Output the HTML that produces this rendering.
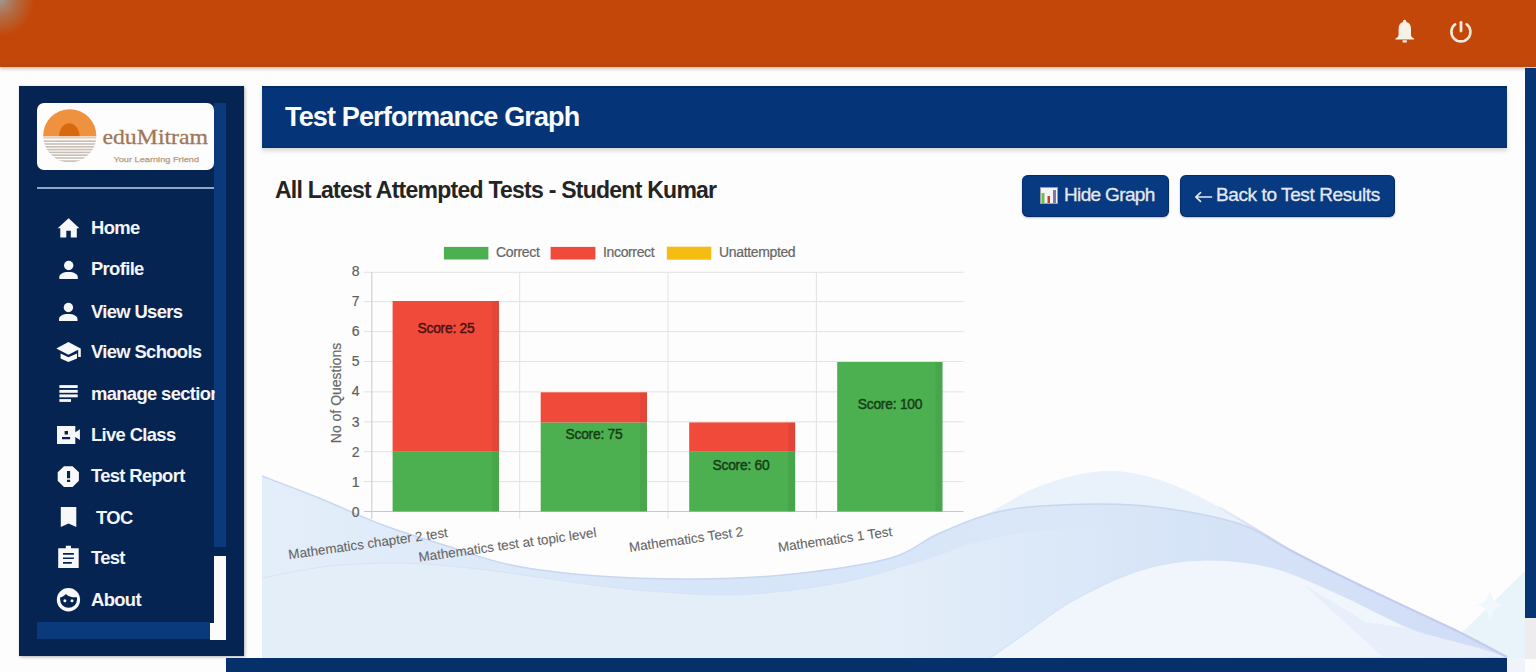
<!DOCTYPE html>
<html><head><meta charset="utf-8">
<style>
*{margin:0;padding:0;box-sizing:border-box}
html,body{width:1536px;height:672px;overflow:hidden;background:#fdfdfe;font-family:"Liberation Sans",sans-serif}
.abs{position:absolute}
#hdr{left:0;top:0;width:1536px;height:67px;background:linear-gradient(#c4470a 0,#c4470a 88%,#b9470f 100%);box-shadow:0 2px 3px rgba(150,80,30,.35)}
#corner{left:-40px;top:-40px;width:90px;height:90px;background:radial-gradient(ellipse 34px 36px at 40px 40px,rgba(160,155,150,.95) 0%,rgba(170,125,95,.7) 45%,rgba(196,71,10,0) 100%)}
#rstrip{left:1525px;top:68px;width:11px;height:550px;background:#073574}
#rgrey{left:1525px;top:617.5px;width:11px;height:41px;background:#ededed}
#card{left:262px;top:86px;width:1263px;height:572px;background:#fdfdfd}
#side{left:19px;top:86px;width:224.5px;height:570px;background:#062452;box-shadow:1px 1px 3px rgba(0,0,0,.3)}
#logo{left:37px;top:103px;width:177px;height:67px;background:#fdfdfd;border-radius:7px}
#hr{left:37px;top:187px;width:177px;height:2px;background:#8ea6ca}
.mi{position:absolute;left:91px;color:#f4f5f8;font-weight:bold;font-size:18.4px;line-height:20px;white-space:nowrap;letter-spacing:-0.65px}
#vstrip{left:214px;top:103px;width:12px;height:444px;background:#0b3a7c}
#wstrip{left:214px;top:556px;width:12px;height:84px;background:#fbfbfb}
#wstrip2{left:210px;top:622.5px;width:5px;height:17px;background:#fbfbfb}
#hstrip{left:37px;top:622px;width:173px;height:16.6px;background:#0b3a7c}
#title{left:262px;top:86px;width:1245px;height:61.5px;background:#053478;border-top:2px solid #022a64;border-bottom:1.5px solid #042d6a;box-shadow:0 3px 4px rgba(0,0,0,.15)}
#title span{position:absolute;left:23px;top:14px;color:#fafbfd;font-weight:bold;font-size:27px;line-height:30px;letter-spacing:-0.85px;white-space:nowrap}
#sub{left:275px;top:177px;color:#242424;font-weight:bold;font-size:23px;line-height:26px;white-space:nowrap;letter-spacing:-0.75px}
.btn{position:absolute;top:175px;height:42px;background:#073a80;border-radius:6px;color:#e4e9f1;font-size:19px;line-height:42px;white-space:nowrap;box-shadow:0 1px 2px rgba(0,0,0,.25),inset 0 0 0 1px rgba(0,20,60,.35);-webkit-text-stroke:0.3px #e4e9f1}
#bot{left:226px;top:658px;width:1281px;height:14px;background:#06306a}
.yl{position:absolute;width:20px;text-align:right;color:#606060;font-size:14px;line-height:14px;-webkit-text-stroke:0.2px #606060}
.xl{position:absolute;color:#666;font-size:13.4px;line-height:14px;white-space:nowrap;transform-origin:100% 0;transform:rotate(-8deg);-webkit-text-stroke:0.1px #666}
.sc{position:absolute;font-weight:normal;-webkit-text-stroke:0.45px currentColor;font-size:15px;line-height:16px;white-space:nowrap;text-align:center;width:110px;letter-spacing:-0.25px;transform:scaleX(0.92)}
.lg{position:absolute;top:244.5px;color:#666;font-size:14px;line-height:14px;white-space:nowrap;letter-spacing:-0.35px;-webkit-text-stroke:0.2px #666}
</style></head><body>
<div id="hdr" class="abs"></div>
<div id="corner" class="abs"></div>
<!-- header icons -->
<svg class="abs" style="left:0;top:0" width="1536" height="67" viewBox="0 0 1536 67">
  <path fill="#f8f1e6" d="M1404.6,19.8 C1403.4,19.8 1402.9,21 1402.9,22 C1399.8,23 1398.6,25.5 1398.6,29 L1398.6,34.5 C1398.6,36.5 1397.5,37.6 1395.5,38.4 L1395.5,39.5 L1414,39.5 L1414,38.4 C1412,37.6 1411,36.5 1411,34.5 L1411,29 C1411,25.5 1409.8,23 1406.4,22 C1406.4,21 1405.8,19.8 1404.6,19.8 Z M1402.6,40.2 L1406.8,40.2 L1406.8,42.6 L1402.6,42.6 Z"/>
  <path fill="none" stroke="#f3eadc" stroke-width="2.6" stroke-linecap="round" d="M1455.2,24.3 A9.5,9.5 0 1 0 1466.6,24.3"/>
  <path fill="none" stroke="#f3eadc" stroke-width="2.8" stroke-linecap="round" d="M1461,22.3 L1461,31"/>
</svg>
<div id="rstrip" class="abs"></div>
<div id="rgrey" class="abs"></div>

<div id="card" class="abs"></div>
<!--WAVE--><svg class="abs" style="left:0;top:0" width="1536" height="672" viewBox="0 0 1536 672">
  <defs>
    <linearGradient id="bg1" x1="262" y1="0" x2="1507" y2="0" gradientUnits="userSpaceOnUse">
      <stop offset="0" stop-color="#e4eefa"/>
      <stop offset="0.35" stop-color="#d6e5f8"/>
      <stop offset="0.65" stop-color="#d9e7f8"/>
      <stop offset="1" stop-color="#d0dcf6"/>
    </linearGradient>
    <linearGradient id="dg" x1="262" y1="0" x2="1120" y2="0" gradientUnits="userSpaceOnUse">
      <stop offset="0" stop-color="#e4eef9"/>
      <stop offset="0.72" stop-color="#e4eef9"/>
      <stop offset="1" stop-color="#e4eef9" stop-opacity="0"/>
    </linearGradient>
    <linearGradient id="dl" x1="262" y1="0" x2="1000" y2="0" gradientUnits="userSpaceOnUse">
      <stop offset="0" stop-color="#d6e2f6"/>
      <stop offset="0.8" stop-color="#d6e2f6"/>
      <stop offset="1" stop-color="#d6e2f6" stop-opacity="0"/>
    </linearGradient>
    <linearGradient id="lav" x1="1200" y1="0" x2="1507" y2="0" gradientUnits="userSpaceOnUse">
      <stop offset="0" stop-color="#c4ccef" stop-opacity="0"/>
      <stop offset="0.3" stop-color="#c4ccef" stop-opacity="1"/>
      <stop offset="1" stop-color="#c4ccef" stop-opacity="1"/>
    </linearGradient>
    <clipPath id="cardclip"><rect x="262" y="148" width="1263" height="510"/></clipPath>
  </defs>
  <g clip-path="url(#cardclip)">
    <path fill="#e9f4fa" d="M1436,658 L1525,571 L1525,658 Z"/>
    <path fill="#f1f8fc" d="M1490,590 Q1492,603 1503,605 Q1492,607 1490,620 Q1488,607 1477,605 Q1488,603 1490,590 Z"/>
    <path fill="#e9f2fb" d="M930.0,541.0 C939.2,536.7 966.7,524.2 985.0,515.0 C1003.3,505.8 1020.3,493.3 1040.0,486.0 C1059.7,478.7 1083.0,472.0 1103.0,471.0 C1123.0,470.0 1140.7,474.0 1160.0,480.0 C1179.3,486.0 1197.7,495.5 1219.0,507.0 C1240.3,518.5 1262.8,535.2 1288.0,549.0 C1313.2,562.8 1342.5,576.7 1370.0,590.0 C1397.5,603.3 1430.2,617.8 1453.0,629.0 C1475.8,640.2 1498.0,652.3 1507.0,657.0 L1507,658 L930,658 Z"/>
    <path fill="url(#bg1)" d="M262.0,476.0 C271.5,479.7 298.8,489.8 319.0,498.0 C339.2,506.2 361.7,517.0 383.0,525.0 C404.3,533.0 425.7,539.3 447.0,546.0 C468.3,552.7 485.8,560.0 511.0,565.0 C536.2,570.0 567.3,573.7 598.0,576.0 C628.7,578.3 662.5,579.3 695.0,579.0 C727.5,578.7 760.3,577.5 793.0,574.0 C825.7,570.5 866.5,564.8 891.0,558.0 C915.5,551.2 920.7,541.0 940.0,533.0 C959.3,525.0 981.0,514.8 1007.0,510.0 C1033.0,505.2 1070.0,504.3 1096.0,504.0 C1122.0,503.7 1139.0,504.7 1163.0,508.0 C1187.0,511.3 1219.2,517.2 1240.0,524.0 C1260.8,530.8 1266.3,538.0 1288.0,549.0 C1309.7,560.0 1342.5,576.7 1370.0,590.0 C1397.5,603.3 1430.2,617.8 1453.0,629.0 C1475.8,640.2 1498.0,652.3 1507.0,657.0 L1507,658 L262,658 Z"/>
    <path fill="url(#dg)" d="M262.0,578.0 C273.3,576.0 307.0,568.5 330.0,566.0 C353.0,563.5 376.7,562.7 400.0,563.0 C423.3,563.3 448.3,565.8 470.0,568.0 C491.7,570.2 508.3,573.0 530.0,576.0 C551.7,579.0 577.8,583.3 600.0,586.0 C622.2,588.7 641.7,590.5 663.0,592.0 C684.3,593.5 706.3,595.3 728.0,595.0 C749.7,594.7 771.3,592.7 793.0,590.0 C814.7,587.3 836.3,584.0 858.0,579.0 C879.7,574.0 901.8,566.5 923.0,560.0 C944.2,553.5 963.8,545.0 985.0,540.0 C1006.2,535.0 1027.5,532.0 1050.0,530.0 C1072.5,528.0 1108.3,528.3 1120.0,528.0 L1120,658 L262,658 Z"/>
    <path fill="#f0f6fc" d="M990.0,658.0 C996.7,653.3 1016.0,639.7 1030.0,630.0 C1044.0,620.3 1055.5,610.0 1074.0,600.0 C1092.5,590.0 1119.2,576.7 1141.0,570.0 C1162.8,563.3 1182.8,560.3 1205.0,560.0 C1227.2,559.7 1251.0,562.0 1274.0,568.0 C1297.0,574.0 1320.0,585.8 1343.0,596.0 C1366.0,606.2 1389.2,620.3 1412.0,629.0 C1434.8,637.7 1464.2,643.3 1480.0,648.0 C1495.8,652.7 1502.5,655.5 1507.0,657.0 Z"/>
    <path fill="#e6eef9" d="M1304,585 C1330,600 1350,612 1365,622 L1412,629 C1440,640 1460,645 1480,648 L1507,657 L1384,658 Z" opacity="0.8"/>
    <path fill="none" stroke="#c8d6f2" stroke-width="1.5" d="M262.0,476.0 C271.5,479.7 298.8,489.8 319.0,498.0 C339.2,506.2 361.7,517.0 383.0,525.0 C404.3,533.0 425.7,539.3 447.0,546.0 C468.3,552.7 485.8,560.0 511.0,565.0 C536.2,570.0 567.3,573.7 598.0,576.0 C628.7,578.3 662.5,579.3 695.0,579.0 C727.5,578.7 760.3,577.5 793.0,574.0 C825.7,570.5 866.5,564.8 891.0,558.0 C915.5,551.2 920.7,541.0 940.0,533.0 C959.3,525.0 981.0,514.8 1007.0,510.0 C1033.0,505.2 1070.0,504.3 1096.0,504.0 C1122.0,503.7 1139.0,504.7 1163.0,508.0 C1187.0,511.3 1219.2,517.2 1240.0,524.0 C1260.8,530.8 1266.3,538.0 1288.0,549.0 C1309.7,560.0 1342.5,576.7 1370.0,590.0 C1397.5,603.3 1430.2,617.8 1453.0,629.0 C1475.8,640.2 1498.0,652.3 1507.0,657.0"/>
    <path fill="none" stroke="url(#dl)" stroke-width="1" d="M262.0,578.0 C273.3,576.0 307.0,568.5 330.0,566.0 C353.0,563.5 376.7,562.7 400.0,563.0 C423.3,563.3 448.3,565.8 470.0,568.0 C491.7,570.2 508.3,573.0 530.0,576.0 C551.7,579.0 577.8,583.3 600.0,586.0 C622.2,588.7 641.7,590.5 663.0,592.0 C684.3,593.5 706.3,595.3 728.0,595.0 C749.7,594.7 771.3,592.7 793.0,590.0 C814.7,587.3 836.3,584.0 858.0,579.0 C879.7,574.0 901.8,566.5 923.0,560.0 C944.2,553.5 974.7,543.3 985.0,540.0"/>
    <path fill="none" stroke="#d6e1f5" stroke-width="1.2" d="M990.0,658.0 C996.7,653.3 1016.0,639.7 1030.0,630.0 C1044.0,620.3 1055.5,610.0 1074.0,600.0 C1092.5,590.0 1119.2,576.7 1141.0,570.0 C1162.8,563.3 1182.8,560.3 1205.0,560.0 C1227.2,559.7 1251.0,562.0 1274.0,568.0 C1297.0,574.0 1320.0,585.8 1343.0,596.0 C1366.0,606.2 1389.2,620.3 1412.0,629.0 C1434.8,637.7 1464.2,643.3 1480.0,648.0 C1495.8,652.7 1502.5,655.5 1507.0,657.0"/>
    <path fill="none" stroke="url(#lav)" stroke-width="2.2" d="M1219,507 C1250,525 1270,538 1288,549 C1320,566 1345,578 1370,590 C1400,604 1425,616 1453,629 C1475,640 1490,648 1507,657"/>
  </g>
</svg><!--/WAVE-->

<div id="side" class="abs"></div>
<div id="vstrip" class="abs"></div>
<div id="wstrip" class="abs"></div>
<div id="wstrip2" class="abs"></div>
<div id="hstrip" class="abs"></div>
<div id="logo" class="abs"></div>
<svg class="abs" style="left:0;top:0" width="240" height="672" viewBox="0 0 240 672">
  <defs><clipPath id="sun"><circle cx="69.75" cy="135.8" r="26.6"/></clipPath></defs>
  <g clip-path="url(#sun)">
    <rect x="40" y="105" width="60" height="31" fill="#f0913f"/>
    <path d="M59.1,136.2 A10.2,12.9 0 0 1 79.5,136.2 Z" fill="#d9690e"/>
    <rect x="40" y="136.2" width="60" height="2.4" fill="#e9cdb3"/>
    <g fill="#c9bdb3">
      <rect x="40" y="140.4" width="60" height="1.6"/>
      <rect x="40" y="143.2" width="60" height="1.6"/>
      <rect x="40" y="146" width="60" height="1.6"/>
      <rect x="40" y="148.8" width="60" height="1.6"/>
      <rect x="40" y="151.6" width="60" height="1.6"/>
      <rect x="40" y="154.4" width="60" height="1.6"/>
      <rect x="40" y="157.2" width="60" height="1.6"/>
      <rect x="40" y="160.3" width="60" height="1.6"/>
    </g>
  </g>
  <text x="102.4" y="144.1" font-family="Liberation Serif" font-size="22" fill="#9f7756" stroke="#9f7756" stroke-width="0.3" textLength="105.7" lengthAdjust="spacingAndGlyphs">eduMitram</text>
  <text x="113.4" y="161.7" font-family="Liberation Sans" font-size="8" fill="#b99a7b" stroke="#b99a7b" stroke-width="0.25" textLength="85.7" lengthAdjust="spacingAndGlyphs">Your Learning Friend</text>
  <g fill="#f7f8fa">
    <!-- home -->
    <path d="M57.7,228.2 L68.6,218.2 L79.4,228.2 L76.8,228.2 L76.8,237.5 L70.8,237.5 L70.8,230.8 L66.3,230.8 L66.3,237.5 L60.3,237.5 L60.3,228.2 Z"/>
    <!-- profile -->
    <circle cx="68.7" cy="265.5" r="4.7"/>
    <path d="M59.3,278.9 L59.3,277.2 C59.3,274 63,272 68.5,272 C74,272 77.8,274 77.8,277.2 L77.8,278.9 Z"/>
    <!-- view users -->
    <circle cx="68.4" cy="307.5" r="4.7"/>
    <path d="M59,320.9 L59,319.2 C59,316 62.7,314 68.2,314 C73.7,314 77.5,316 77.5,319.2 L77.5,320.9 Z"/>
    <!-- grad cap -->
    <path d="M56.3,348.6 L68.4,342 L80.6,348.6 L68.4,354.8 Z"/>
    <rect x="78.2" y="348.6" width="2.6" height="8.4"/>
    <path d="M60.6,353.6 L68.4,357.2 L77,353.6 L77,358.4 L68.4,362 L60.6,358.4 Z"/>
    <!-- list -->
    <rect x="59.4" y="385.1" width="18.3" height="2.9"/>
    <rect x="59.4" y="389.9" width="18.3" height="2.9"/>
    <rect x="59.4" y="394.4" width="18.3" height="2.9"/>
    <rect x="59.4" y="399.1" width="11.6" height="2.8"/>
    <!-- live class -->
    <path fill-rule="evenodd" d="M57,426.1 L75.3,426.1 L75.3,432.3 L79.9,429.2 L79.9,440.1 L75.3,437 L75.3,444 L57,444 Z M64.6,431.1 L68,431.1 L68,434.4 L64.6,434.4 Z M62,437 L70.1,437 L70.1,439.2 L62,439.2 Z"/>
    <!-- report octagon -->
    <path fill-rule="evenodd" d="M64,466.2 L72.6,466.2 L78.9,472.2 L78.9,480.8 L72.6,486.9 L64,486.9 L57.7,480.8 L57.7,472.2 Z M67,471 L70.1,471 L70.1,478.3 L67,478.3 Z M67,479.8 L70.1,479.8 L70.1,481.9 L67,481.9 Z"/>
    <!-- bookmark -->
    <path d="M60.8,506.9 L76.3,506.9 L76.3,526.9 L68.5,523.6 L60.8,526.9 Z"/>
    <!-- clipboard -->
    <path fill-rule="evenodd" d="M58.2,548.3 L65.8,548.3 L65.8,545.7 L71,545.7 L71,548.3 L78.7,548.3 L78.7,567.9 L58.2,567.9 Z M63,553.1 L73.9,553.1 L73.9,554.8 L63,554.8 Z M63,557.4 L73.9,557.4 L73.9,559.1 L63,559.1 Z M63,561.9 L71.8,561.9 L71.8,563.8 L63,563.8 Z"/>
    <!-- face -->
    <circle cx="68.45" cy="599.75" r="11.65"/>
  </g>
  <path fill="#062452" d="M60.1,597.4 C62.3,596.8 64.3,595.6 65.9,593.9 C68.3,596.6 72.2,597.6 77,597.3 L77,599.6 A8.45,8.2 0 0 1 60.1,599.6 Z"/>
  <g fill="#f7f8fa">
    <circle cx="64.9" cy="600.7" r="1.5"/>
    <circle cx="72" cy="600.7" r="1.5"/>
  </g>
</svg>
<div id="hr" class="abs"></div>
<div class="mi" style="top:217.5px">Home</div>
<div class="mi" style="top:259.4px">Profile</div>
<div class="mi" style="top:302.2px">View Users</div>
<div class="mi" style="top:342.4px">View Schools</div>
<div class="mi" style="top:383.5px;width:124px;overflow:hidden">manage section</div>
<div class="mi" style="top:425.4px">Live Class</div>
<div class="mi" style="top:465.6px">Test Report</div>
<div class="mi" style="top:507.5px;left:96px">TOC</div>
<div class="mi" style="top:547.8px">Test</div>
<div class="mi" style="top:589.6px">About</div>

<div id="title" class="abs"><span>Test Performance Graph</span></div>
<div id="sub" class="abs">All Latest Attempted Tests - Student Kumar</div>
<div class="btn" style="left:1022px;width:147px">
  <svg class="abs" style="left:18px;top:12px" width="18" height="17" viewBox="0 0 18 17">
    <rect x="0.5" y="0.5" width="17" height="16" fill="#f4f4f6" stroke="#9a9aa8" stroke-width="1"/>
    <rect x="1.5" y="6" width="3" height="10" fill="#6cc04a"/>
    <rect x="7.5" y="9" width="2.5" height="7" fill="#b9473a"/>
    <rect x="13" y="3" width="3" height="13" fill="#7a7aa6"/>
  </svg>
  <span class="abs" style="left:42px;top:-1px;letter-spacing:-0.65px">Hide Graph</span>
</div>
<div class="btn" style="left:1180px;width:215px">
  <svg class="abs" style="left:0;top:0" width="40" height="42" viewBox="1180 175 40 42"><path d="M1211.5,197 L1196,197 M1200.5,192.6 L1195.8,197 L1200.5,201.4" fill="none" stroke="#e4e9f1" stroke-width="1.7" stroke-linecap="round" stroke-linejoin="round"/></svg>
  <span class="abs" style="left:36px;top:-1px;letter-spacing:-0.4px">Back to Test Results</span>
</div>

<!-- chart -->
<svg class="abs" style="left:0;top:0" width="1536" height="672" viewBox="0 0 1536 672">
  <g stroke="#e2e2e2" stroke-width="1">
    <line x1="364" y1="272.3" x2="963.5" y2="272.3"/>
    <line x1="364" y1="301.6" x2="963.5" y2="301.6"/>
    <line x1="364" y1="331.6" x2="963.5" y2="331.6"/>
    <line x1="364" y1="361.5" x2="963.5" y2="361.5"/>
    <line x1="364" y1="391.9" x2="963.5" y2="391.9"/>
    <line x1="364" y1="421.8" x2="963.5" y2="421.8"/>
    <line x1="364" y1="451.7" x2="963.5" y2="451.7"/>
    <line x1="364" y1="481.6" x2="963.5" y2="481.6"/>
    <line x1="519.7" y1="272" x2="519.7" y2="519"/>
    <line x1="668" y1="272" x2="668" y2="519"/>
    <line x1="816.4" y1="272" x2="816.4" y2="519"/>
  </g>
  <line x1="371.8" y1="272" x2="371.8" y2="519" stroke="#c8c8c8" stroke-width="1"/>
  <line x1="364" y1="511.5" x2="963.5" y2="511.5" stroke="#c8c8c8" stroke-width="1"/>
  <g>
    <rect x="392.6" y="451.7" width="106.4" height="59.8" fill="#4caf50"/>
    <rect x="392.6" y="301" width="106.4" height="150.7" fill="#f04a3a"/>
    <rect x="540.7" y="422.4" width="106.3" height="89.1" fill="#4caf50"/>
    <rect x="540.7" y="392.3" width="106.3" height="30.1" fill="#f04a3a"/>
    <rect x="689.2" y="451.7" width="106" height="59.8" fill="#4caf50"/>
    <rect x="689.2" y="422.4" width="106" height="29.3" fill="#f04a3a"/>
    <rect x="837.2" y="362" width="105.3" height="149.5" fill="#4caf50"/>
    <g fill="#000" opacity="0.05">
      <rect x="492" y="301" width="7" height="210.5"/>
      <rect x="640" y="392.3" width="7" height="119.2"/>
      <rect x="788.2" y="422.4" width="7" height="89.1"/>
      <rect x="935.5" y="362" width="7" height="149.5"/>
    </g>
  </g>
  <rect x="443.9" y="246.9" width="44.5" height="12.6" fill="#4caf50"/>
  <rect x="550.6" y="246.9" width="44.8" height="12.6" fill="#f04a3a"/>
  <rect x="666.8" y="246.7" width="44.5" height="13" fill="#f5bc14"/>
</svg>
<div class="lg" style="left:496px">Correct</div>
<div class="lg" style="left:603px">Incorrect</div>
<div class="lg" style="left:719px">Unattempted</div>
<div class="yl" style="left:339.5px;top:263.7px">8</div>
<div class="yl" style="left:339.5px;top:293.9px">7</div>
<div class="yl" style="left:339.5px;top:324.0px">6</div>
<div class="yl" style="left:339.5px;top:354.2px">5</div>
<div class="yl" style="left:339.5px;top:384.3px">4</div>
<div class="yl" style="left:339.5px;top:414.5px">3</div>
<div class="yl" style="left:339.5px;top:444.7px">2</div>
<div class="yl" style="left:339.5px;top:474.8px">1</div>
<div class="yl" style="left:339.5px;top:505.0px">0</div>
<div class="abs" style="left:280.5px;top:385.5px;width:110px;white-space:nowrap;text-align:center;color:#666;font-size:14px;line-height:14px;transform:rotate(-90deg);-webkit-text-stroke:0.15px #666">No of Questions</div>
<div class="sc" style="left:391px;top:320px;color:#4a1212">Score: 25</div>
<div class="sc" style="left:539px;top:426px;color:#173d17">Score: 75</div>
<div class="sc" style="left:686px;top:457px;color:#173d17">Score: 60</div>
<div class="sc" style="left:835px;top:396px;color:#173d17">Score: 100</div>
<div class="xl" style="right:1089px;top:526px">Mathematics chapter 2 test</div>
<div class="xl" style="right:941px;top:526px">Mathematics test at topic level</div>
<div class="xl" style="right:794px;top:525px">Mathematics Test 2</div>
<div class="xl" style="right:645px;top:525px">Mathematics 1 Test</div>

<div id="bot" class="abs"></div>
<div class="abs" style="left:1507px;top:658px;width:18px;height:14px;background:#eef4f9"></div>
</body></html>
